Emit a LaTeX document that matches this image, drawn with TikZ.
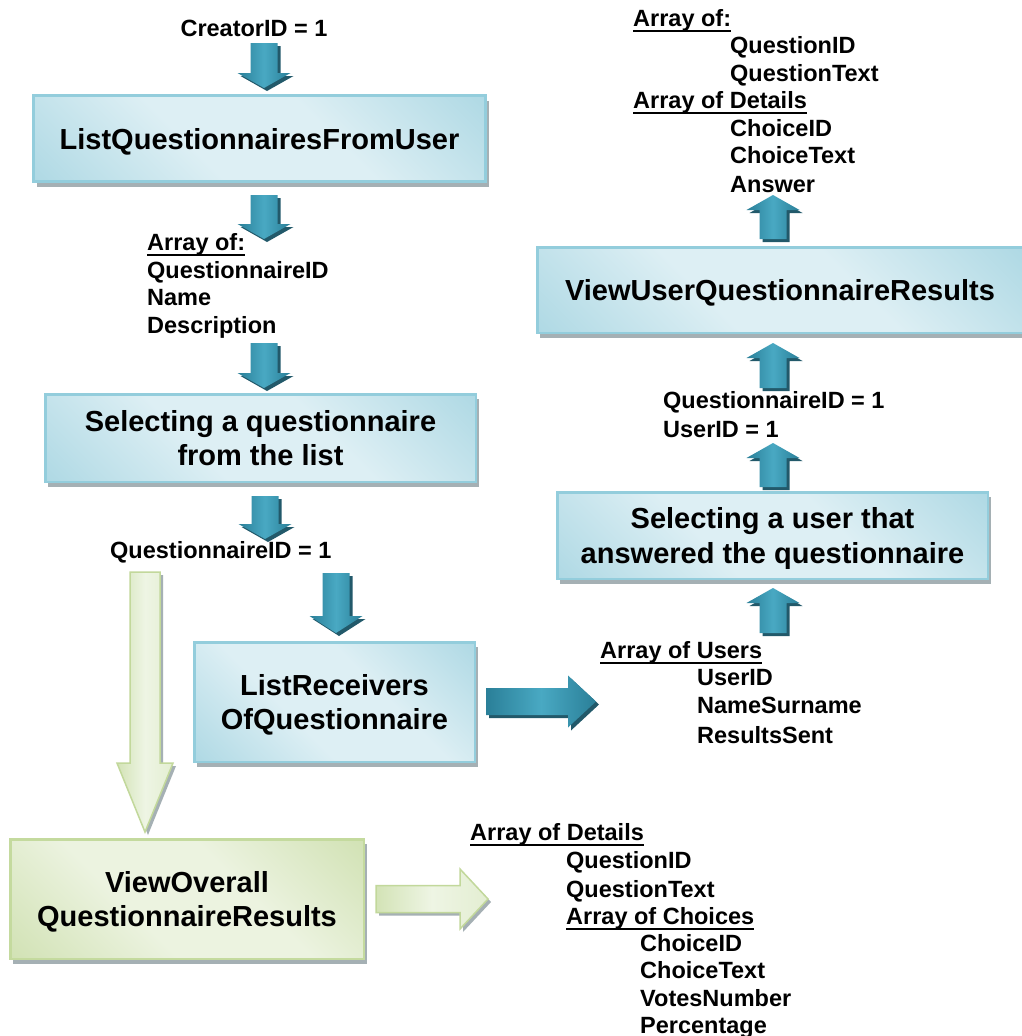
\documentclass[tikz,border=0pt]{standalone}
\usepackage{fontspec}
\setmainfont{Liberation Sans}
\usetikzlibrary{calc,shadows}

\definecolor{tealD}{HTML}{94CCDB}
\definecolor{tealL}{HTML}{DDEFF4}
\definecolor{tealRim}{HTML}{93CDDC}
\definecolor{greenD}{HTML}{C2D89B}
\definecolor{greenL}{HTML}{ECF3E0}
\definecolor{greenRim}{HTML}{C4DA9E}
\definecolor{boxShadow}{HTML}{A5B0B4}
\definecolor{arrD}{HTML}{2A7F98}
\definecolor{arrL}{HTML}{49A9C3}
\definecolor{arrS}{HTML}{22596A}
\definecolor{garrD}{HTML}{D3E3B6}
\definecolor{garrL}{HTML}{EEF5E4}
\definecolor{garrRim}{HTML}{C2D89B}

\pgfdeclarehorizontalshading{tealfill}{100bp}{color(0bp)=(tealD); color(40bp)=(tealL); color(60bp)=(tealL); color(100bp)=(tealD)}
\pgfdeclarehorizontalshading{greenfill}{100bp}{color(0bp)=(greenD); color(40bp)=(greenL); color(60bp)=(greenL); color(100bp)=(greenD)}

% underlined heading with a heavy rule
\newcommand\ulhead[1]{\setbox0=\hbox{#1}\rlap{\rule[-5.5pt]{\wd0}{2pt}}\box0}

% vertical block arrow: tail, tip, half shaft, half head, head length, style
\newcommand\vblock[6]{%
  \path[#6] let \p1=(#1), \p2=(#2), \n1={ifthenelse(\y2<\y1,1,-1)} in
    ({\x1-#3pt},\y1) -- ({\x1+#3pt},\y1) -- ({\x1+#3pt},{\y2+(\n1)*#5pt})
    -- ({\x1+#4pt},{\y2+(\n1)*#5pt}) -- (\x2,\y2) -- ({\x1-#4pt},{\y2+(\n1)*#5pt})
    -- ({\x1-#3pt},{\y2+(\n1)*#5pt}) -- cycle;}
% horizontal block arrow pointing right
\newcommand\hblock[6]{%
  \path[#6] let \p1=(#1), \p2=(#2) in
    (\x1,{\y1+#3pt}) -- ({\x2-#5pt},{\y1+#3pt}) -- ({\x2-#5pt},{\y1+#4pt}) -- (\x2,\y1)
    -- ({\x2-#5pt},{\y1-#4pt}) -- ({\x2-#5pt},{\y1-#3pt}) -- (\x1,{\y1-#3pt}) -- cycle;}

\tikzset{
  boxtxt/.style={font=\bfseries\fontsize{29}{34.5}\selectfont, align=center, text=black, inner sep=0pt, text depth=0pt},
  lbl/.style={font=\bfseries\fontsize{23.5}{27.5}\selectfont, anchor=base west, inner sep=0pt, text=black},
  tbox/.style={boxtxt, rectangle, draw=tealRim, line width=2.5pt, shade, shading=tealfill, shading angle=45,
    general shadow={fill=boxShadow, shadow xshift=3pt, shadow yshift=-5pt}},
  gbox/.style={boxtxt, rectangle, draw=greenRim, line width=2.5pt, shade, shading=greenfill, shading angle=45,
    general shadow={fill=boxShadow, shadow xshift=3pt, shadow yshift=-5pt}},
  tarrow/.style={left color=arrD, right color=arrD, middle color=arrL,
    preaction={fill=arrS, transform canvas={shift={(3pt,-3pt)}}}},
  garrow/.style={left color=garrD, right color=garrD!40!garrL, middle color=garrL, draw=garrRim, line width=1.5pt,
    preaction={fill=boxShadow, transform canvas={shift={(3pt,-3pt)}}}}
}

\begin{document}
\begin{tikzpicture}[x=1pt,y=-1pt]
\useasboundingbox (0,0) rectangle (1021,1036);
\fill[white] (0,0) rectangle (1021,1036);

% ---------- process boxes ----------
\node[tbox, minimum width=452, minimum height=86] (lq) at (259.5,138.5) {ListQuestionnairesFromUser};
\node[tbox, minimum width=430.5, minimum height=87.5] (sq) at (260.5,438) {Selecting a questionnaire\\from the list};
\node[tbox, minimum width=280.5, minimum height=119.5] (lr) at (334.5,702) {ListReceivers\\OfQuestionnaire};
\node[gbox, minimum width=353.5, minimum height=119.5] (vo) at (187,899) {ViewOverall\\QuestionnaireResults};
\node[tbox, minimum width=485.5, minimum height=85.5] (vu) at (780,290) {ViewUserQuestionnaireResults};
\node[tbox, minimum width=430.5, minimum height=86.5] (su) at (772.5,535.5) {Selecting a user that\\answered the questionnaire};

% ---------- data labels ----------
\node[lbl, anchor=base] (cid) at (254,36) {CreatorID = 1};

\node[lbl] (la0) at (147,250) {\ulhead{Array of:}};
\node[lbl] (la1) at (147,278) {QuestionnaireID};
\node[lbl] (la2) at (147,305) {Name};
\node[lbl] (la3) at (147,333) {Description};

\node[lbl] (qid) at (110,558) {QuestionnaireID = 1};

\node[lbl] (ra0) at (633,27) {\ulhead{Array of:}};
\node[lbl] (ra1) at (730,53) {QuestionID};
\node[lbl] (ra2) at (730,81) {QuestionText};
\node[lbl] (ra3) at (633,108) {\ulhead{Array of Details}};
\node[lbl] (ra4) at (730,136) {ChoiceID};
\node[lbl] (ra5) at (730,163) {ChoiceText};
\node[lbl] (ra6) at (730,192) {Answer};

\node[lbl] (pq1) at (663,408) {QuestionnaireID = 1};
\node[lbl] (pq2) at (663,437) {UserID = 1};

\node[lbl] (us0) at (600,658) {\ulhead{Array of Users}};
\node[lbl] (us1) at (697,685) {UserID};
\node[lbl] (us2) at (697,713) {NameSurname};
\node[lbl] (us3) at (697,743) {ResultsSent};

\node[lbl] (od0) at (470,840) {\ulhead{Array of Details}};
\node[lbl] (od1) at (566,868) {QuestionID};
\node[lbl] (od2) at (566,897) {QuestionText};
\node[lbl] (od3) at (566,924) {\ulhead{Array of Choices}};
\node[lbl] (od4) at (640,951) {ChoiceID};
\node[lbl] (od5) at (640,978) {ChoiceText};
\node[lbl] (od6) at (640,1006) {VotesNumber};
\node[lbl] (od7) at (640,1033) {Percentage};

% ---------- block arrows ----------
\coordinate (a1t) at (264,43);  \coordinate (a1h) at (264,88);
\coordinate (a2t) at (264,195); \coordinate (a2h) at (264,239);
\coordinate (a3t) at (264,343); \coordinate (a3h) at (264,388);
\coordinate (a4t) at (265,496); \coordinate (a4h) at (265,539);
\coordinate (a5t) at (336,573); \coordinate (a5h) at (336,633);
\coordinate (b1t) at (773,633); \coordinate (b1h) at (773,588);
\coordinate (b2t) at (773,487); \coordinate (b2h) at (773,443);
\coordinate (b3t) at (773,388); \coordinate (b3h) at (773,343);
\coordinate (b4t) at (773,239); \coordinate (b4h) at (773,195);
\coordinate (rt) at (486,701.5); \coordinate (rh) at (596,701.5);
\coordinate (gdt) at (145,572); \coordinate (gdh) at (145,832);
\coordinate (grt) at (376,899); \coordinate (grh) at (488,899);

\vblock{a1t}{a1h}{13.5}{26.5}{15}{tarrow}
\vblock{a2t}{a2h}{13.5}{26.5}{15}{tarrow}
\vblock{a3t}{a3h}{13.5}{26.5}{15}{tarrow}
\vblock{a4t}{a4h}{13.5}{26.5}{15}{tarrow}
\vblock{a5t}{a5h}{13.5}{26.5}{17}{tarrow}
\vblock{b1t}{b1h}{13.5}{26.5}{15}{tarrow}
\vblock{b2t}{b2h}{13.5}{26.5}{15}{tarrow}
\vblock{b3t}{b3h}{13.5}{26.5}{15}{tarrow}
\vblock{b4t}{b4h}{13.5}{26.5}{15}{tarrow}
\hblock{rt}{rh}{13.5}{26}{28}{tarrow}
\vblock{gdt}{gdh}{15}{28}{69}{garrow}
\hblock{grt}{grh}{13.5}{30}{28}{garrow}
\end{tikzpicture}
\end{document}
